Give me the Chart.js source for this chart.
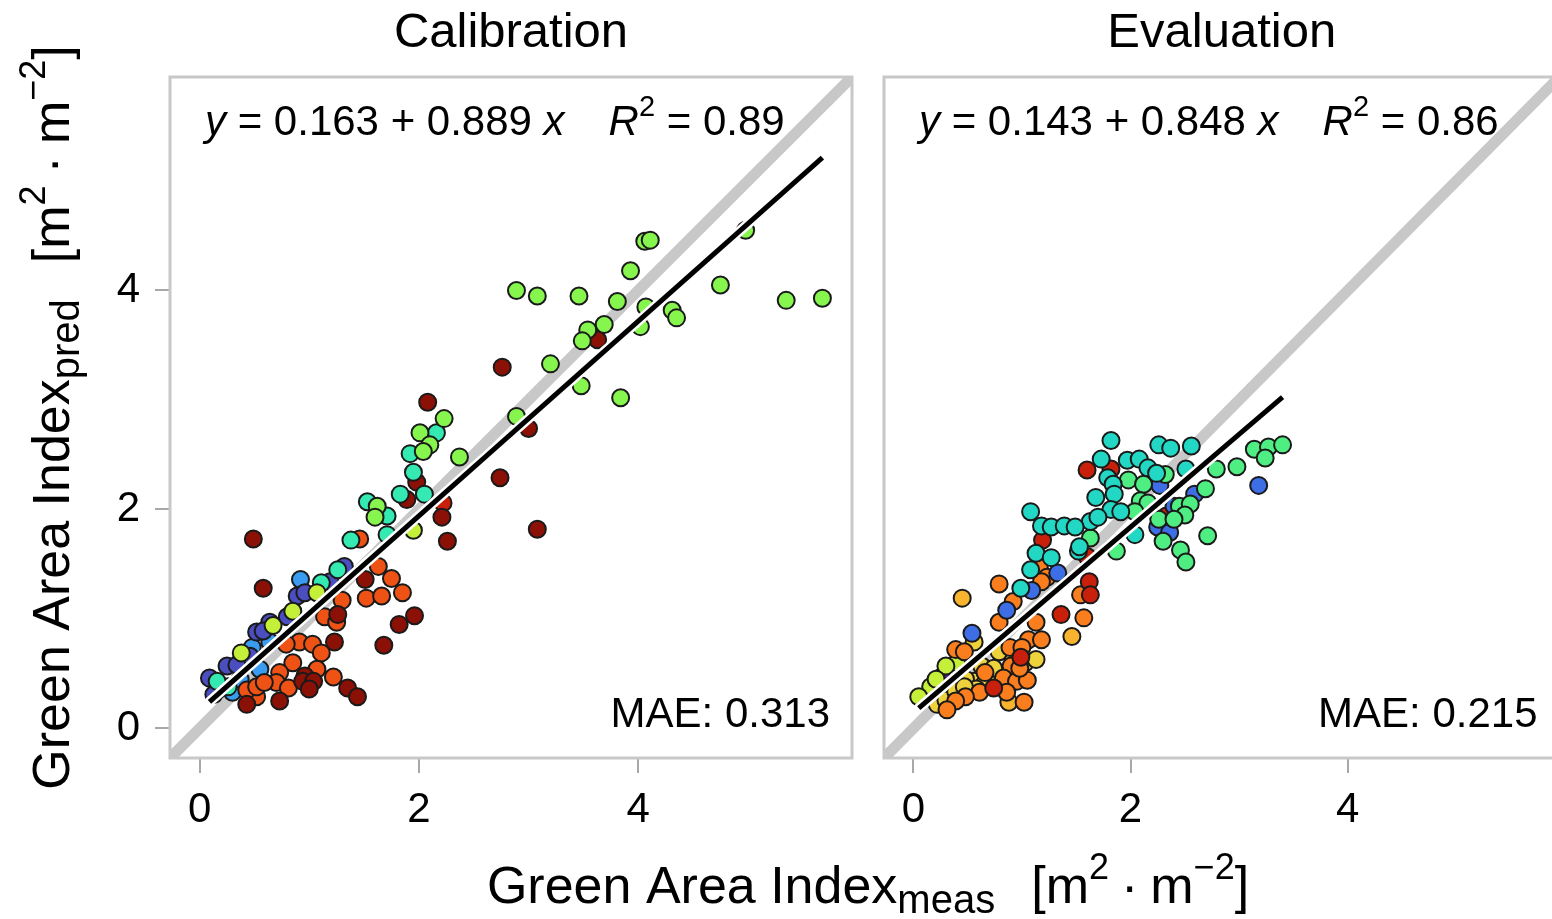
<!DOCTYPE html>
<html>
<head>
<meta charset="utf-8">
<script src="https://cdn.jsdelivr.net/npm/chart.js@4.4.1/dist/chart.umd.min.js"></script>
<style>
  html, body { margin: 0; padding: 0; background: #fff; overflow: hidden; }
  #wrap { position: relative; width: 1570px; height: 919px; }
  #calBox { position: absolute; left: 0; top: 0; width: 1570px; height: 919px; }
  #evaBox { position: absolute; left: 870px; top: 0; width: 700px; height: 919px; }
</style>
</head>
<body>
<div id="wrap">
  <div id="calBox"><canvas id="cal"></canvas></div>
  <div id="evaBox"><canvas id="eva"></canvas></div>
</div>
<script>
const FONT = '"Liberation Sans", Arial, Helvetica, sans-serif';

const axisMin = -0.27;
const axisMax = 5.95;
const tickValues = [0, 2, 4];

// point groups (sampling campaigns), colour per group
const groupColors = [
  '#8b1005', '#c8200a', '#ee5215', '#fa7e1e', '#f8b42e', '#edd23c', '#c4f03a',
  '#86f64e', '#4eee82', '#34eab2', '#22d8c4', '#3a9cf0', '#3e6ee6', '#4a4ebe', '#5a1e96'
];

// Calibration: points stored group by group
const calGroupOrder = [7, 6, 9, 0, 1, 2, 13, 11];
const calGroupCounts = [29, 5, 13, 26, 1, 23, 14, 6];
const calMeas = [
  4.06, 4.11, 4.98, 4.75, 5.35, 5.68, 2.89, 3.08, 3.46, 3.93, 3.81, 4.07, 4.31, 4.35, 3.69, 3.54, 3.49, 4.02, 3.20, 3.48, 3.84, 2.89, 2.23, 2.01, 2.10, 2.04, 2.37, 1.62, 1.60,
  1.95, 1.07, 0.85, 0.67, 0.38,
  2.16, 1.92, 1.95, 1.83, 2.05, 1.53, 1.71, 1.38, 1.71, 1.26, 1.11, 0.26, 0.16,
  3.63, 2.76, 2.08, 3.00, 1.98, 2.74, 2.21, 2.26, 3.08, 1.89, 0.49, 0.58, 1.51, 1.96, 1.82, 1.68, 1.23, 1.26, 0.96, 0.94, 1.04, 1.00, 1.35, 1.44, 0.73, 0.43,
  2.22,
  1.46, 1.63, 1.75, 1.85, 1.52, 1.66, 1.30, 1.14, 1.25, 0.91, 1.03, 1.11, 0.79, 0.85, 0.73, 0.70, 1.07, 0.81, 1.22, 0.52, 0.43, 0.52, 0.59,
  0.89, 0.96, 1.19, 1.32, 0.80, 0.64, 0.52, 0.58, 0.46, 0.25, 0.34, 0.09, 0.18, 0.13,
  0.92, 0.64, 0.55, 0.30, 0.37, 0.48
];
const calPred = [
  4.45, 4.46, 4.55, 4.05, 3.91, 3.93, 4.00, 3.95, 3.95, 4.18, 3.90, 3.85, 3.82, 3.75, 3.69, 3.64, 3.54, 3.67, 3.33, 3.13, 3.02, 2.85, 2.83, 2.70, 2.59, 2.53, 2.48, 2.03, 1.93,
  1.81, 1.24, 1.07, 0.94, 0.69,
  2.70, 2.51, 2.34, 2.14, 2.14, 2.07, 1.94, 1.72, 1.77, 1.45, 1.33, 0.38, 0.43,
  3.55, 3.30, 2.98, 2.74, 2.25, 2.29, 1.93, 1.71, 1.82, 2.09, 1.73, 1.28, 1.36, 1.03, 0.95, 0.76, 0.79, 1.04, 0.48, 0.43, 0.43, 0.36, 0.37, 0.29, 0.25, 0.22,
  2.06,
  1.73, 1.48, 1.37, 1.24, 1.19, 1.21, 1.17, 1.02, 0.97, 0.79, 0.77, 0.69, 0.77, 0.60, 0.51, 0.42, 0.54, 0.37, 0.47, 0.29, 0.35, 0.38, 0.42,
  1.21, 1.24, 1.34, 1.48, 1.02, 0.97, 0.88, 0.89, 0.66, 0.57, 0.58, 0.46, 0.36, 0.31,
  1.36, 0.79, 0.54, 0.33, 0.45, 0.74
];
const calFit = { intercept: 0.163, slope: 0.889, r2: '0.89', mae: '0.313' };

// Evaluation
const evalGroupOrder = [10, 8, 12, 1, 3, 4, 5, 6, 14];
const evalGroupCounts = [30, 24, 10, 10, 27, 3, 17, 5, 1];
const evalMeas = [
  1.82, 2.26, 2.37, 2.56, 1.73, 1.97, 2.08, 1.79, 2.16, 2.24, 2.51, 1.84, 1.68, 1.85, 1.82, 1.91, 1.08, 1.63, 1.70, 1.18, 1.27, 1.39, 1.49, 2.04, 1.52, 1.53, 1.13, 1.27, 1.08, 0.99,
  2.32, 2.79, 2.98, 3.14, 3.27, 3.40, 3.24, 1.98, 2.12, 2.69, 2.09, 2.16, 2.45, 2.55, 2.50, 2.04, 2.26, 1.63, 2.71, 2.30, 2.46, 2.51, 1.87, 2.40,
  3.18, 2.27, 2.59, 2.40, 2.25, 2.36, 1.33, 1.09, 0.86, 0.54,
  1.60, 1.82, 2.33, 1.19, 1.60, 1.62, 1.63, 1.36, 0.99, 0.74,
  1.16, 1.23, 1.18, 0.79, 1.54, 1.57, 0.92, 0.79, 1.13, 1.06, 1.18, 0.39, 0.89, 1.00, 0.90, 0.83, 0.95, 1.05, 0.61, 0.48, 0.39, 0.31, 1.02, 0.47, 0.66, 0.86, 0.98,
  0.45, 1.46, 0.88,
  0.56, 0.79, 1.03, 1.13, 0.63, 0.69, 0.56, 0.48, 0.22, 0.30, 0.42, 0.65, 0.39, 0.58, 0.47, 0.74, 0.92,
  0.40, 0.30, 0.16, 0.05, 0.21,
  0.26
];
const evalPred = [
  2.63, 2.59, 2.56, 2.58, 2.46, 2.45, 2.46, 2.29, 2.38, 2.33, 2.37, 2.23, 2.11, 2.14, 2.00, 1.98, 1.98, 1.89, 1.93, 1.85, 1.84, 1.85, 1.84, 1.77, 1.62, 1.66, 1.60, 1.56, 1.45, 1.28,
  2.32, 2.37, 2.39, 2.55, 2.57, 2.59, 2.47, 2.27, 2.23, 2.19, 2.08, 2.06, 2.03, 2.05, 1.95, 1.98, 1.91, 1.74, 1.76, 1.71, 1.63, 1.52, 1.62, 1.91,
  2.22, 2.22, 2.14, 2.03, 1.84, 1.79, 1.42, 1.26, 1.08, 0.87,
  2.36, 2.37, 1.94, 1.72, 1.57, 1.34, 1.22, 1.04, 0.65, 0.37,
  1.47, 1.38, 1.34, 1.32, 1.22, 1.01, 1.16, 0.97, 0.97, 0.81, 0.81, 0.72, 0.74, 0.74, 0.57, 0.46, 0.43, 0.44, 0.33, 0.29, 0.25, 0.17, 0.24, 0.70, 0.51, 0.33, 0.55,
  1.19, 0.84, 0.24,
  0.79, 0.70, 0.60, 0.63, 0.57, 0.49, 0.43, 0.45, 0.22, 0.26, 0.36, 0.40, 0.34, 0.36, 0.38, 0.55, 0.62,
  0.60, 0.57, 0.38, 0.29, 0.45,
  0.47
];
const evalFit = { intercept: 0.143, slope: 0.848, r2: '0.86', mae: '0.215' };

function buildDatasets(meas, pred, order, counts, fit) {
  const lo = Math.min(...meas), hi = Math.max(...meas);
  const fitLine = [lo, hi].map(x => ({ x, y: fit.intercept + fit.slope * x }));
  const sets = [
    { type: 'line', data: fitLine, borderColor: '#000', borderWidth: 5, pointRadius: 0, order: 0 },
    { type: 'line', data: fitLine, borderColor: '#fff', borderWidth: 10, borderCapStyle: 'round', pointRadius: 0, order: 1 }
  ];
  let start = 0;
  order.forEach((g, k) => {
    const pts = [];
    for (let i = start; i < start + counts[k]; i++) pts.push({ x: meas[i], y: pred[i] });
    start += counts[k];
    sets.push({
      type: 'scatter', data: pts, backgroundColor: groupColors[g],
      borderColor: '#1a1a1a', borderWidth: 2, pointRadius: 8.5, order: 2
    });
  });
  sets.push({
    type: 'line', data: [{ x: axisMin, y: axisMin }, { x: axisMax, y: axisMax }],
    borderColor: '#c8c8c8', borderWidth: 11, pointRadius: 0, order: 3
  });
  return sets;
}

// draws a row of text pieces (for italics, sub- and superscripts)
function drawRuns(ctx, runs, x, y, align) {
  let w = 0;
  runs.forEach(r => {
    ctx.font = (r.it ? 'italic ' : '') + r.s + 'px ' + FONT;
    r.w = ctx.measureText(r.t).width + (r.gap || 0);
    w += r.w;
  });
  let cx = align === 'center' ? x - w / 2 : align === 'right' ? x - w : x;
  ctx.textAlign = 'left';
  ctx.textBaseline = 'alphabetic';
  runs.forEach(r => {
    ctx.font = (r.it ? 'italic ' : '') + r.s + 'px ' + FONT;
    ctx.fillText(r.t, cx, y + (r.dy || 0));
    cx += r.w;
  });
}

function labelRuns(sub) {
  return [
    { t: 'Green Area Index', s: 52 }, { t: sub, s: 40, dy: 10, gap: 36 },
    { t: '[m', s: 52 }, { t: '2', s: 36, dy: -24, gap: 12 },
    { t: '·', s: 52, gap: 12 }, { t: 'm', s: 52 }, { t: '−2', s: 36, dy: -24 }, { t: ']', s: 52 }
  ];
}

const panelText = {
  id: 'panelText',
  afterDatasetsDraw(chart, args, opts) {
    const ctx = chart.ctx;
    const a = chart.chartArea;
    ctx.save();
    ctx.fillStyle = '#000';

    // frame
    ctx.strokeStyle = '#c8c8c8';
    ctx.lineWidth = 3;
    ctx.strokeRect(a.left, a.top, a.right - a.left, a.bottom - a.top);

    drawRuns(ctx, [{ t: opts.title, s: 49 }], (a.left + a.right) / 2, 47, 'center');

    drawRuns(ctx, [
      { t: 'y', s: 42, it: true },
      { t: ' = ' + opts.fit.intercept.toFixed(3) + ' + ' + opts.fit.slope.toFixed(3) + ' ', s: 42 },
      { t: 'x', s: 42, it: true, gap: 44 },
      { t: 'R', s: 42, it: true }, { t: '2', s: 29, dy: -19 }, { t: ' = ' + opts.fit.r2, s: 42 }
    ], a.left + 35, a.top + 58, 'left');

    drawRuns(ctx, [{ t: 'MAE: ' + opts.fit.mae, s: 42 }], a.right - 22, a.bottom - 31, 'right');

    if (opts.yLabel) {
      ctx.save();
      ctx.translate(69, (a.top + a.bottom) / 2);
      ctx.rotate(-Math.PI / 2);
      drawRuns(ctx, labelRuns('pred'), 0, 0, 'center');
      ctx.restore();
    }
    if (opts.xLabel) {
      drawRuns(ctx, labelRuns('meas'), opts.xLabelCenter, 903, 'center');
    }
    ctx.restore();
  }
};

function axisOptions(showLabels) {
  return {
    type: 'linear',
    min: axisMin,
    max: axisMax,
    display: showLabels,
    afterBuildTicks: s => { s.ticks = tickValues.map(v => ({ value: v })); },
    grid: { display: true, drawOnChartArea: false, drawTicks: true, tickLength: 15, color: '#a8a8a8', lineWidth: 2 },
    border: { display: false },
    ticks: { font: { size: 42, family: FONT }, color: '#000', padding: 12, maxRotation: 0 }
  };
}

function makeChart(id, meas, pred, order, counts, fit, title, isLeft) {
  const x = axisOptions(true);
  x.afterFit = s => { s.height = 161; };
  const y = axisOptions(isLeft);
  y.ticks.padding = 15;
  if (isLeft) y.afterFit = s => { s.width = 170; };
  return new Chart(document.getElementById(id), {
    type: 'scatter',
    data: { datasets: buildDatasets(meas, pred, order, counts, fit) },
    options: {
      responsive: true,
      maintainAspectRatio: false,
      devicePixelRatio: 1,
      animation: false,
      events: [],
      layout: { padding: isLeft ? { top: 77, right: 718, left: 0, bottom: 0 } : { top: 77, right: 4, left: 14, bottom: 0 } },
      plugins: {
        legend: { display: false },
        tooltip: { enabled: false },
        panelText: { title, fit, yLabel: isLeft, xLabel: isLeft, xLabelCenter: 868 }
      },
      scales: { x, y }
    },
    plugins: [panelText]
  });
}

makeChart('cal', calMeas, calPred, calGroupOrder, calGroupCounts, calFit, 'Calibration', true);
makeChart('eva', evalMeas, evalPred, evalGroupOrder, evalGroupCounts, evalFit, 'Evaluation', false);
</script>
</body>
</html>
